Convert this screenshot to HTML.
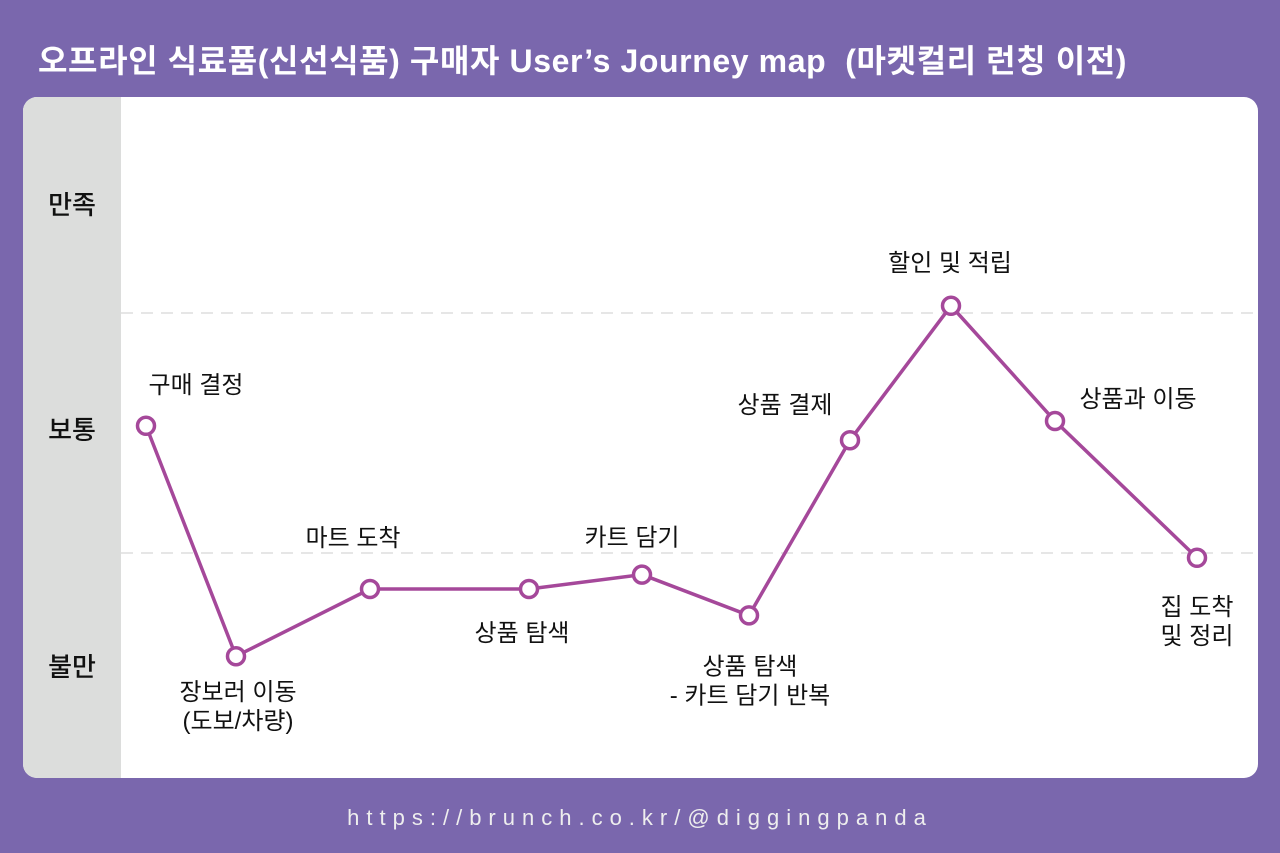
<!DOCTYPE html>
<html><head><meta charset="utf-8">
<style>
body{margin:0;width:1280px;height:853px;background:#7a67ad;overflow:hidden;font-family:"Liberation Sans","Noto Sans CJK KR",sans-serif;}
#title{position:absolute;left:38px;top:36px;color:#fff;font-size:32px;font-weight:bold;white-space:nowrap;letter-spacing:0.6px}
#card{position:absolute;left:23px;top:97px;width:1235px;height:681px;background:#fff;border-radius:14px;overflow:hidden}
#side{position:absolute;left:0;top:0;width:98px;height:100%;background:#dcdddc}
.yl{position:absolute;left:0;width:98px;text-align:center;font-size:26px;color:#111;font-weight:500}
#url{position:absolute;left:0;width:1280px;top:805px;text-align:center;color:#eee;font-size:22px;letter-spacing:7px}
svg{position:absolute;left:0;top:0}
</style></head><body>
<div id="title">오프라인 식료품(신선식품) 구매자 User’s Journey map &nbsp;(마켓컬리 런칭 이전)</div>
<div id="card">
<div id="side"></div>
<div class="yl" style="top:88px">만족</div>
<div class="yl" style="top:313px">보통</div>
<div class="yl" style="top:550px">불만</div>
</div>
<svg id="chart" width="1280" height="853"></svg>
<div id="url">https://brunch.co.kr/@diggingpanda</div>
<script>
const steps=["구매 결정","장보러 이동|(도보/차량)","마트 도착","상품 탐색","카트 담기","상품 탐색|- 카트 담기 반복","상품 결제","할인 및 적립","상품과 이동","집 도착|및 정리"];
const xs=[146,236,370,529,642,749,850,951,1055,1197];
const values=[1.53,0.57,0.85,0.85,0.91,0.74,1.47,2.03,1.55,0.98];
const labelDx=[50,2,-17,-7,-10,1,-65,-1,83,0];
const labelDy=[-42,35,-52,43,-38,50,-36,-44,-23,48];
const NS="http://www.w3.org/2000/svg";
const svg=document.getElementById('chart');
function yScale(v){return 553-(v-1)*240;}
[1,2].forEach(g=>{const l=document.createElementNS(NS,'line');


l.setAttribute('x1',121);l.setAttribute('x2',1258);l.setAttribute('y1',yScale(g));l.setAttribute('y2',yScale(g));
l.setAttribute('stroke','#ddd');l.setAttribute('stroke-width',1.5);l.setAttribute('stroke-dasharray','12 8');svg.appendChild(l);});
const pl=document.createElementNS(NS,'polyline');


pl.setAttribute('points',xs.map((x,i)=>x+','+yScale(values[i])).join(' '));
pl.setAttribute('fill','none');pl.setAttribute('stroke','#a5489a');pl.setAttribute('stroke-width',3.5);svg.appendChild(pl);
xs.forEach((x,i)=>{const y=yScale(values[i]);
const c=document.createElementNS(NS,'circle');


c.setAttribute('cx',x);c.setAttribute('cy',y);c.setAttribute('r',8.5);c.setAttribute('fill','#fff');c.setAttribute('stroke','#a5489a');c.setAttribute('stroke-width',3.5);svg.appendChild(c);
const lines=steps[i].split('|');
lines.forEach((t,k)=>{const tx=document.createElementNS(NS,'text');


tx.setAttribute('x',x+labelDx[i]);tx.setAttribute('y',y+labelDy[i]+k*29+9);
tx.setAttribute('text-anchor','middle');tx.setAttribute('font-size','24');tx.setAttribute('fill','#111');
tx.setAttribute('font-family','Liberation Sans, Noto Sans CJK KR, sans-serif');
tx.textContent=t;svg.appendChild(tx);});
});
</script>
</body></html>
